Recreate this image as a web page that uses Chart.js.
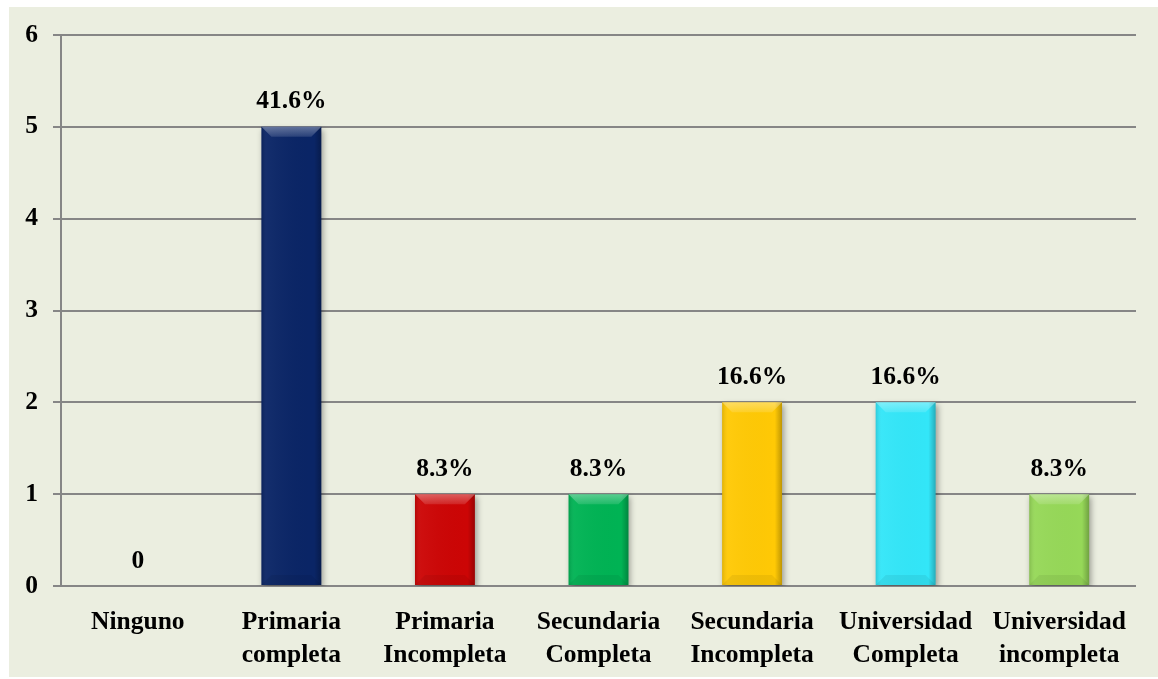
<!DOCTYPE html>
<html>
<head>
<meta charset="utf-8">
<script src="https://cdn.jsdelivr.net/npm/chart.js@4"></script>
<style>
  html, body { margin: 0; padding: 0; background: #ffffff; }
  #wrap { position: absolute; left: 0; top: 0; width: 1158px; height: 679px; }
  #panel { position: absolute; left: 9px; top: 7px; width: 1149px; height: 670px; background: #ebeee0; }
  canvas { position: absolute; left: 0; top: 0; }
</style>
</head>
<body>
<div id="wrap">
  <div id="panel"></div>
  <canvas id="mainChart" width="1158" height="679"></canvas>
</div>
<script>
const categorias = [
    ['Ninguno'],
    ['Primaria', 'completa'],
    ['Primaria', 'Incompleta'],
    ['Secundaria', 'Completa'],
    ['Secundaria', 'Incompleta'],
    ['Universidad', 'Completa'],
    ['Universidad', 'incompleta']
];
const cantidades = [0, 5, 1, 1, 2, 2, 1];
const porcentajes = ['0', '41.6%', '8.3%', '8.3%', '16.6%', '16.6%', '8.3%'];
const colores = ['#0a2566', '#0a2566', '#cc0505', '#00b354', '#ffc905', '#33e6f8', '#96d858'];
const yTicks = [0, 1, 2, 3, 4, 5, 6];

const fuente = { family: '"Liberation Serif", "Times New Roman", serif', size: 25.5, weight: 'bold' };

// sombra bajo las barras
const sombra = {
    id: 'sombra',
    beforeDatasetsDraw(chart) {
        const c = chart.ctx;
        c.save();
        c.shadowColor = 'rgba(0,0,0,0.35)';
        c.shadowBlur = 6;
        c.shadowOffsetX = 2;
        c.shadowOffsetY = 3;
    },
    afterDatasetsDraw(chart) {
        chart.ctx.restore();
    }
};

// biselado de cada barra y etiquetas de porcentaje
const bisel = {
    id: 'bisel',
    afterDatasetsDraw(chart) {
        const c = chart.ctx;
        const meta = chart.getDatasetMeta(0);
        meta.data.forEach((bar, i) => {
            const w = bar.width;
            const left = bar.x - w / 2;
            const right = bar.x + w / 2;
            const top = bar.y;
            const h = bar.base - bar.y;
            if (h > 2) {
                c.save();
                const g = c.createLinearGradient(left, 0, right, 0);
                g.addColorStop(0, 'rgba(0,0,0,0.12)');
                g.addColorStop(0.1, 'rgba(255,255,255,0.04)');
                g.addColorStop(0.88, 'rgba(0,0,0,0)');
                g.addColorStop(1, 'rgba(0,0,0,0.25)');
                c.fillStyle = g;
                c.fillRect(left, top, w, h);
                // borde superior claro
                const b = Math.min(10, h / 3);
                const gt = c.createLinearGradient(0, top, 0, top + b);
                gt.addColorStop(0, 'rgba(255,255,255,0.35)');
                gt.addColorStop(1, 'rgba(255,255,255,0.12)');
                c.beginPath();
                c.moveTo(left, top);
                c.lineTo(right, top);
                c.lineTo(right - b, top + b);
                c.lineTo(left + b, top + b);
                c.closePath();
                c.fillStyle = gt;
                c.fill();
                // borde inferior
                c.beginPath();
                c.moveTo(left, bar.base);
                c.lineTo(right, bar.base);
                c.lineTo(right - b, bar.base - b);
                c.lineTo(left + b, bar.base - b);
                c.closePath();
                c.fillStyle = 'rgba(0,0,0,0.06)';
                c.fill();
                c.restore();
            }
            c.save();
            c.font = 'bold 25.5px "Liberation Serif", "Times New Roman", serif';
            c.fillStyle = '#000000';
            c.textAlign = 'center';
            c.textBaseline = 'middle';
            c.fillText(porcentajes[i], bar.x, top - 25);
            c.restore();
        });
    }
};

new Chart(document.getElementById('mainChart'), {
    type: 'bar',
    data: {
        labels: categorias,
        datasets: [{
            data: cantidades,
            backgroundColor: colores,
            borderWidth: 0,
            categoryPercentage: 1,
            barPercentage: 0.39
        }]
    },
    options: {
        responsive: false,
        animation: false,
        events: [],
        layout: { padding: { top: 35, right: 22, left: 0, bottom: 0 } },
        plugins: {
            legend: { display: false },
            tooltip: { enabled: false }
        },
        scales: {
            x: {
                grid: { display: false },
                border: { display: false },
                ticks: {
                    color: '#000000',
                    font: Object.assign({}, fuente, { lineHeight: 1.3 }),
                    padding: 12,
                    maxRotation: 0,
                    autoSkip: false
                },
                afterFit(s) { s.height = 93; }
            },
            y: {
                min: 0,
                max: 6,
                afterBuildTicks(s) { s.ticks = yTicks.map(v => ({ value: v })); },
                grid: {
                    color: '#868686',
                    lineWidth: 2,
                    tickLength: 8
                },
                border: { display: true, color: '#868686', width: 2 },
                ticks: {
                    color: '#000000',
                    font: fuente,
                    padding: 15
                },
                afterFit(s) { s.width = 61; }
            }
        }
    },
    plugins: [sombra, bisel]
});
</script>
</body>
</html>
